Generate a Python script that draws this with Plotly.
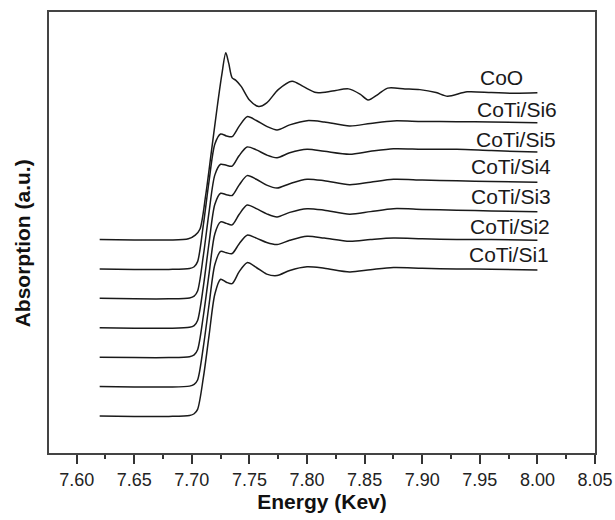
import plotly.graph_objects as go

# ---- data ----
energy_coo = [7.620, 7.650, 7.680, 7.697, 7.703, 7.707, 7.712, 7.717, 7.722, 7.726, 7.7295,
              7.732, 7.735, 7.738, 7.743, 7.750, 7.758, 7.765, 7.775, 7.787, 7.797, 7.808,
              7.822, 7.836, 7.846, 7.853, 7.862, 7.870, 7.885, 7.898, 7.912, 7.922, 7.939,
              7.960, 7.980, 8.000]
absorb_coo = [0.0, -0.003, -0.003, 0.005, 0.03, 0.07, 0.30, 0.60, 0.90, 1.12, 1.27,
              1.20, 1.10, 1.085, 1.04, 0.95, 0.905, 0.93, 1.02, 1.077, 1.04, 1.0,
              1.01, 1.025, 0.99, 0.950, 0.99, 1.03, 1.025, 1.02, 1.0, 0.975, 1.005,
              1.0, 0.995, 0.998]

energy_si = [7.620, 7.650, 7.680, 7.698, 7.702, 7.705, 7.710, 7.715, 7.720, 7.725, 7.730,
             7.735, 7.741, 7.748, 7.756, 7.765, 7.774, 7.785, 7.800, 7.815, 7.837, 7.855,
             7.875, 7.900, 7.930, 7.960, 8.000]
absorb_si6 = [0.0, -0.003, -0.003, 0.003, 0.015, 0.05, 0.30, 0.60, 0.85, 0.918, 0.905,
              0.90, 0.97, 1.036, 1.01, 0.97, 0.946, 0.98, 1.009, 1.0, 0.973, 0.99,
              1.007, 1.003, 1.002, 1.0, 0.995]
absorb_si5 = [0.0, -0.003, -0.003, 0.003, 0.015, 0.05, 0.29, 0.59, 0.84, 0.912, 0.905,
              0.90, 0.97, 1.03, 1.01, 0.975, 0.957, 0.99, 1.014, 1.0, 0.98, 1.0,
              1.018, 1.015, 1.014, 1.005, 0.995]
absorb_si4 = [0.0, -0.003, -0.003, 0.003, 0.015, 0.05, 0.28, 0.58, 0.84, 0.915, 0.905,
              0.90, 0.97, 1.035, 1.01, 0.97, 0.95, 0.98, 1.01, 1.0, 0.973, 0.99,
              1.01, 1.005, 1.0, 0.995, 0.989]
absorb_si3 = [0.0, -0.003, -0.003, 0.003, 0.015, 0.05, 0.28, 0.57, 0.84, 0.92, 0.91,
              0.90, 0.97, 1.035, 1.01, 0.975, 0.954, 0.985, 1.01, 1.0, 0.973, 0.99,
              1.01, 1.005, 1.0, 0.995, 0.99]
absorb_si2 = [0.0, -0.003, -0.003, 0.003, 0.015, 0.045, 0.27, 0.56, 0.83, 0.92, 0.91,
              0.905, 0.97, 1.03, 1.01, 0.98, 0.966, 0.995, 1.022, 1.01, 0.988, 1.0,
              1.01, 1.005, 1.0, 1.0, 0.995]
absorb_si1 = [0.0, -0.003, -0.003, 0.003, 0.015, 0.045, 0.26, 0.55, 0.83, 0.93, 0.91,
              0.90, 0.98, 1.043, 1.01, 0.965, 0.955, 0.99, 1.015, 1.005, 0.98, 0.995,
              1.01, 1.005, 1.0, 0.998, 0.993]

labels = ["CoTi/Si1", "CoTi/Si2", "CoTi/Si3", "CoTi/Si4", "CoTi/Si5", "CoTi/Si6", "CoO"]
offsets = [0.0, 0.2, 0.4, 0.6, 0.8, 1.0, 1.2]
label_x = [7.975, 7.976, 7.977, 7.977, 7.981, 7.982, 7.969]
label_y = [1.095, 1.286, 1.49, 1.694, 1.884, 2.082, 2.30]

x_ticks = [7.60, 7.65, 7.70, 7.75, 7.80, 7.85, 7.90, 7.95, 8.00, 8.05]
x_range = [7.576, 8.05]
y_range = [-0.252, 2.748]

series = [
    (energy_si, absorb_si1),
    (energy_si, absorb_si2),
    (energy_si, absorb_si3),
    (energy_si, absorb_si4),
    (energy_si, absorb_si5),
    (energy_si, absorb_si6),
    (energy_coo, absorb_coo),
]

fig = go.Figure()
for (ex, ab), off, name in zip(series, offsets, labels):
    fig.add_trace(go.Scatter(
        x=ex, y=[v + off for v in ab], mode="lines", name=name,
        line=dict(color="#1a1a1a", width=1.5, shape="spline", smoothing=0.8),
        showlegend=False,
    ))

font = "Liberation Sans, Arial"
for name, lx, ly in zip(labels, label_x, label_y):
    fig.add_annotation(x=lx, y=ly, text=name, showarrow=False,
                       font=dict(family=font, size=21, color="#1a1a1a"))

# y-axis title as a rotated annotation (placed slightly below centre like the reference)
fig.add_annotation(xref="paper", yref="paper", x=-0.049, y=0.476, text="<b>Absorption (a.u.)</b>",
                   textangle=-90, showarrow=False, xanchor="center", yanchor="middle",
                   font=dict(size=21, color="#111", family=font))

fig.update_layout(
    width=615, height=520,
    margin=dict(l=49, r=20, t=12, b=67, autoexpand=False),
    paper_bgcolor="white", plot_bgcolor="white",
    font=dict(family=font, color="#222"),
    xaxis=dict(
        range=x_range, tickvals=x_ticks, ticktext=[f"{t:.2f}" for t in x_ticks],
        ticks="outside", ticklen=9, tickwidth=1.5, tickcolor="#333",
        minor=dict(dtick=0.025, tick0=7.6, ticks="outside", ticklen=4, tickwidth=1.5, tickcolor="#333"),
        showline=True, mirror=True, linecolor="#444", linewidth=2,
        showgrid=False, zeroline=False, automargin=False,
        ticklabelstandoff=0,
        tickfont=dict(size=18, color="#222", family=font),
        title=dict(text="<b>Energy (Kev)</b>", font=dict(size=21, color="#111", family=font), standoff=2),
    ),
    yaxis=dict(
        range=y_range, showticklabels=False, ticks="",
        showline=True, mirror=True, linecolor="#444", linewidth=2,
        showgrid=False, zeroline=False, automargin=False,
    ),
)

fig.write_html("out.html")
